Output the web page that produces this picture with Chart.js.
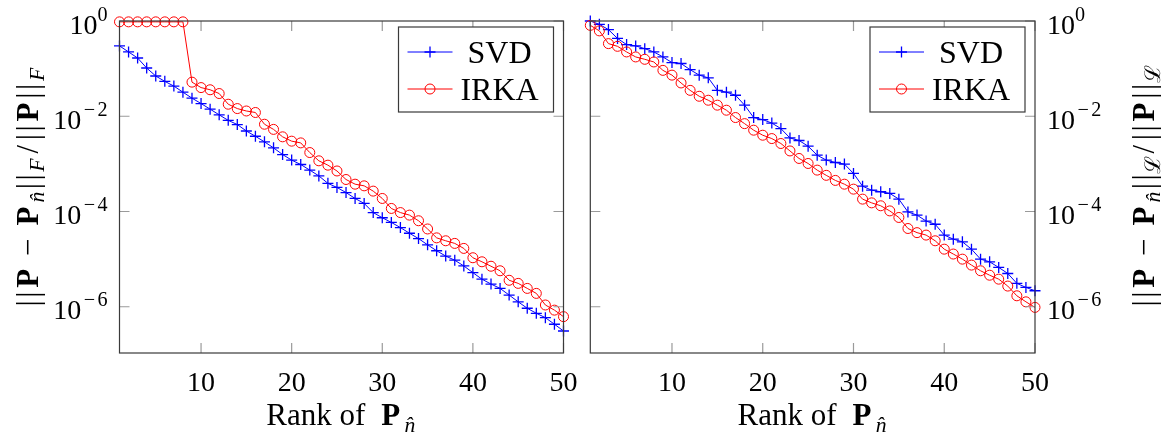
<!DOCTYPE html>
<html>
<head>
<meta charset="utf-8">
<script src="https://cdn.jsdelivr.net/npm/chart.js@4.4.1/dist/chart.umd.min.js"></script>
<style>
    html, body { margin: 0; padding: 0; background: #fff; }
    #wrap { position: relative; width: 1164px; height: 437px; }
    canvas { position: absolute; top: 0; }
</style>
</head>
<body>
<div id="wrap">
    <canvas id="left" width="582" height="437" style="left:0;width:582px;height:437px"></canvas>
    <canvas id="right" width="582" height="437" style="left:582px;width:582px;height:437px"></canvas>
</div>
<script>
const ranks = Array.from({ length: 50 }, (_, i) => i + 1);

// ||P - P_n||_F / ||P||_F
const svdF = [
    3.0e-1, 2.24e-1, 1.67e-1, 1.03e-1, 7.0e-2, 5.4e-2, 4.3e-2, 3.2e-2, 2.4e-2, 1.85e-2,
    1.41e-2, 1.07e-2, 8.2e-3, 6.7e-3, 4.9e-3, 3.8e-3, 2.9e-3, 2.17e-3, 1.57e-3, 1.2e-3,
    9.7e-4, 7.4e-4, 5.6e-4, 3.9e-4, 3.2e-4, 2.5e-4, 1.88e-4, 1.48e-4, 9.5e-5, 7.4e-5,
    5.9e-5, 4.6e-5, 3.5e-5, 2.7e-5, 2.0e-5, 1.5e-5, 1.16e-5, 9.5e-6, 7.2e-6, 5.2e-6,
    3.8e-6, 3.0e-6, 2.43e-6, 1.76e-6, 1.27e-6, 9.3e-7, 7.3e-7, 5.9e-7, 4.3e-7, 3.1e-7,
];
const irkaF = [
    0.96, 0.96, 0.96, 0.96, 0.96, 0.96, 0.96, 0.96, 5.2e-2, 4.0e-2,
    3.6e-2, 3.0e-2, 1.79e-2, 1.45e-2, 1.29e-2, 1.2e-2, 6.8e-3, 5.3e-3, 3.7e-3, 3.0e-3,
    2.76e-3, 1.73e-3, 1.16e-3, 9.4e-4, 7.1e-4, 4.7e-4, 3.75e-4, 3.46e-4, 2.68e-4, 1.88e-4,
    1.16e-4, 9.5e-5, 8.4e-5, 6.4e-5, 4.3e-5, 2.8e-5, 2.43e-5, 2.14e-5, 1.68e-5, 1.07e-5,
    8.8e-6, 7.1e-6, 5.7e-6, 3.6e-6, 3.1e-6, 2.43e-6, 1.91e-6, 1.09e-6, 8.5e-7, 6.2e-7,
];

// ||P - P_n||_L / ||P||_L
const svdL = [
    1.0, 8.5e-1, 6.6e-1, 4.3e-1, 3.2e-1, 3.0e-1, 2.63e-1, 2.24e-1, 1.76e-1, 1.34e-1,
    1.28e-1, 9.5e-2, 7.3e-2, 6.4e-2, 3.5e-2, 3.2e-2, 2.76e-2, 1.71e-2, 9.4e-3, 8.5e-3,
    7.2e-3, 5.5e-3, 3.5e-3, 3.1e-3, 2.35e-3, 1.52e-3, 1.2e-3, 1.07e-3, 9.9e-4, 6.3e-4,
    3.4e-4, 2.8e-4, 2.6e-4, 2.4e-4, 1.82e-4, 9.8e-5, 8.4e-5, 6.3e-5, 5.4e-5, 3.2e-5,
    2.63e-5, 2.31e-5, 1.62e-5, 1.0e-5, 8.8e-6, 6.7e-6, 5.0e-6, 3.1e-6, 2.55e-6, 2.17e-6,
];
const irkaL = [
    8.1e-1, 6.2e-1, 3.35e-1, 2.94e-1, 2.24e-1, 1.76e-1, 1.57e-1, 1.38e-1, 9.2e-2, 7.3e-2,
    5.0e-2, 3.5e-2, 2.63e-2, 2.17e-2, 1.71e-2, 1.34e-2, 9.4e-3, 7.0e-3, 5.1e-3, 4.0e-3,
    3.4e-3, 2.68e-3, 1.87e-3, 1.3e-3, 1.02e-3, 7.4e-4, 5.75e-4, 4.5e-4, 3.75e-4, 2.95e-4,
    1.82e-4, 1.52e-4, 1.32e-4, 1.03e-4, 7.5e-5, 4.4e-5, 3.6e-5, 3.2e-5, 2.43e-5, 1.62e-5,
    1.28e-5, 1.0e-5, 7.5e-6, 5.7e-6, 4.6e-6, 3.8e-6, 2.72e-6, 1.7e-6, 1.27e-6, 9.7e-7,
];

const xTickValues = [10, 20, 30, 40, 50];
const yTickValues = [1, 1e-2, 1e-4, 1e-6];
const yTickExponents = ["0", "\u22122", "\u22124", "\u22126"];
const seriesNames = ["SVD", "IRKA"];

const SERIF = '"Liberation Serif", "DejaVu Serif", serif';
const BLUE = "#0000ff";
const RED = "#ff0000";

// texto con negritas / subindices / superindices
function drawRich(ctx, parts, x, y, size, opts = {}) {
    const rot = opts.rot || 0;
    const align = opts.align || "center";
    const base = opts.base || 0;
    ctx.save();
    ctx.translate(x, y);
    ctx.rotate(rot);
    const items = parts.map((p) => {
        const k = p.k || "r";
        let fs = size, style = "", dy = 0;
        if (k === "b") style = "bold ";
        if (k === "sub" || k === "subr") {
            fs = size * 0.7;
            dy = size * 0.22;
            if (k === "sub") style = "italic ";
        }
        if (k === "sup") {
            fs = size * 0.72;
            dy = -size * 0.46;
        }
        const font = style + fs + "px " + SERIF;
        ctx.font = font;
        const tw = ctx.measureText(p.t).width;
        const w = p.w != null ? p.w * fs : tw;
        return { t: p.t, font, dy, tw, w, a: p.a || "c" };
    });
    const total = items.reduce((s, i) => s + i.w, 0);
    let cx = align === "center" ? -total / 2 : align === "right" ? -total : 0;
    ctx.fillStyle = "#000";
    ctx.textBaseline = "alphabetic";
    ctx.textAlign = "left";
    for (const i of items) {
        ctx.font = i.font;
        const off = i.a === "l" ? 0 : (i.w - i.tw) / 2;
        ctx.fillText(i.t, cx + off, base + i.dy);
        cx += i.w;
    }
    ctx.restore();
}

const normTitle = (sub, subKind) => [
    { t: "|", w: 0.278 }, { t: "|", w: 0.278 },
    { t: "P", k: "b", w: 0.785 },
    { t: "\u2212", w: 1.222 },
    { t: "P", k: "b", w: 0.785 },
    { t: "n\u0302", k: "sub", w: 0.62 },
    { t: "|", w: 0.278 }, { t: "|", w: 0.278 },
    { t: sub, k: subKind, w: 0.75 },
    { t: "/", w: 0.5 },
    { t: "|", w: 0.278 }, { t: "|", w: 0.278 },
    { t: "P", k: "b", w: 0.785 },
    { t: "|", w: 0.278 }, { t: "|", w: 0.278 },
    { t: sub, k: subKind, w: 0.75 },
];

const xTitle = [
    { t: "Rank of" },
    { t: " ", w: 0.42 },
    { t: "P", k: "b", w: 0.8 },
    { t: "n\u0302", k: "sub", w: 0.62 },
];

// "−2" -> signo con ancho tipo TeX + cifra
const expParts = (e) =>
    e.startsWith("\u2212")
        ? [{ t: "\u2212", k: "sup", w: 0.8 }, { t: e.slice(1), k: "sup" }]
        : [{ t: e, k: "sup" }];

const framePlugin = {
    id: "frame",
    afterDatasetsDraw(chart, args, o) {
        const { ctx, chartArea: a } = chart;
        const x = chart.scales.x;
        const y = chart.scales.y;
        ctx.save();

        // marcas de los ejes hacia adentro
        ctx.strokeStyle = "#9a9a9a";
        ctx.lineWidth = 1.2;
        ctx.beginPath();
        x.ticks.forEach((t) => {
            const px = x.getPixelForValue(t.value);
            ctx.moveTo(px, a.bottom); ctx.lineTo(px, a.bottom - 10);
            ctx.moveTo(px, a.top); ctx.lineTo(px, a.top + 10);
        });
        y.ticks.forEach((t) => {
            const py = y.getPixelForValue(t.value);
            ctx.moveTo(a.left, py); ctx.lineTo(a.left + 10, py);
            ctx.moveTo(a.right, py); ctx.lineTo(a.right - 10, py);
        });
        ctx.stroke();

        ctx.strokeStyle = "#3a3a3a";
        ctx.lineWidth = 1.2;
        ctx.strokeRect(a.left, a.top, a.right - a.left, a.bottom - a.top);

        // etiquetas
        x.ticks.forEach((t) => {
            drawRich(ctx, [{ t: String(t.value) }], x.getPixelForValue(t.value), 391, 28);
        });
        y.ticks.forEach((t, i) => {
            const py = y.getPixelForValue(t.value) + 12.5;
            const parts = [{ t: "10" }].concat(expParts(yTickExponents[i]));
            if (o.side === "left") drawRich(ctx, parts, a.left - 12, py, 28, { align: "right" });
            else drawRich(ctx, parts, a.right + 12, py, 28, { align: "left" });
        });
        drawRich(ctx, xTitle, (a.left + a.right) / 2, 425, 31);
        drawRich(ctx, o.yTitle, o.titleX, (a.top + a.bottom) / 2, 31, { rot: -Math.PI / 2, base: 10.5 });

        // leyenda
        const lx = a.right - 165, ly = a.top + 6, lw = 155, lh = 85;
        ctx.fillStyle = "#fff";
        ctx.fillRect(lx, ly, lw, lh);
        ctx.strokeStyle = "#3a3a3a";
        ctx.lineWidth = 1.2;
        ctx.strokeRect(lx, ly, lw, lh);
        chart.data.datasets.forEach((ds, i) => {
            const yy = ly + 25 + i * 37;
            ctx.strokeStyle = ds.borderColor;
            ctx.lineWidth = 1;
            ctx.beginPath();
            ctx.moveTo(lx + 9, yy); ctx.lineTo(lx + 54, yy);
            ctx.stroke();
            ctx.lineWidth = ds.pointBorderWidth;
            ctx.beginPath();
            if (ds.pointStyle === "cross") {
                const r = ds.pointRadius;
                ctx.moveTo(lx + 31.5 - r, yy); ctx.lineTo(lx + 31.5 + r, yy);
                ctx.moveTo(lx + 31.5, yy - r); ctx.lineTo(lx + 31.5, yy + r);
            } else {
                ctx.arc(lx + 31.5, yy, ds.pointRadius, 0, Math.PI * 2);
            }
            ctx.stroke();
            drawRich(ctx, [{ t: ds.label }], lx + 101, yy + 10.5, 32);
        });
        ctx.restore();
    },
};

function crearGrafico(id, svd, irka, side, yTitle, titleX) {
    return new Chart(document.getElementById(id), {
        type: "line",
        data: {
            datasets: [
                {
                    label: seriesNames[0],
                    data: ranks.map((r, i) => ({ x: r, y: svd[i] })),
                    borderColor: BLUE,
                    backgroundColor: BLUE,
                    borderWidth: 1,
                    pointStyle: "cross",
                    pointRadius: 5.5,
                    pointBorderWidth: 1.3,
                    pointBorderColor: BLUE,
                    clip: false,
                    order: 1,
                },
                {
                    label: seriesNames[1],
                    data: ranks.map((r, i) => ({ x: r, y: irka[i] })),
                    borderColor: RED,
                    backgroundColor: "rgba(0,0,0,0)",
                    borderWidth: 1,
                    pointStyle: "circle",
                    pointRadius: 5,
                    pointBorderWidth: 1,
                    pointBorderColor: RED,
                    pointBackgroundColor: "rgba(0,0,0,0)",
                    clip: false,
                    order: 0,
                },
            ],
        },
        options: {
            responsive: false,
            animation: false,
            devicePixelRatio: 1,
            layout: {
                padding: side === "left"
                    ? { left: 0, right: 18.5, top: 21, bottom: 0 }
                    : { left: 8.3, right: 0, top: 21, bottom: 0 },
            },
            plugins: {
                legend: { display: false },
                tooltip: { enabled: false },
                frame: { side: side, yTitle: yTitle, titleX: titleX },
            },
            scales: {
                x: {
                    type: "linear",
                    min: 1,
                    max: 50,
                    grid: { display: false },
                    border: { display: false },
                    ticks: { display: false },
                    afterBuildTicks: (s) => { s.ticks = xTickValues.map((v) => ({ value: v })); },
                    afterFit: (s) => { s.height = 84; },
                },
                y: {
                    type: "logarithmic",
                    position: side,
                    min: 1.07e-7,
                    max: 1,
                    grid: { display: false },
                    border: { display: false },
                    ticks: { display: false },
                    afterBuildTicks: (s) => { s.ticks = yTickValues.map((v) => ({ value: v })); },
                    afterFit: (s) => { s.width = side === "left" ? 119.5 : 129; },
                },
            },
        },
        plugins: [framePlugin],
    });
}

crearGrafico("left", svdF, irkaF, "left", normTitle("F", "sub"), 27);
crearGrafico("right", svdL, irkaL, "right", normTitle("\u2112", "subr"), 1143 - 582);
</script>
</body>
</html>
